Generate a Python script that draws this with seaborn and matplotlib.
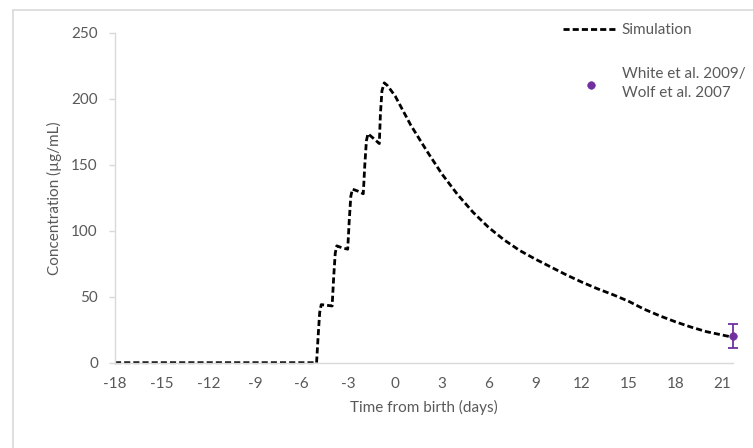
import matplotlib
matplotlib.use("Agg")
import matplotlib.pyplot as plt
import seaborn as sns
import pandas as pd
from matplotlib.lines import Line2D

# Simulated concentration
sim_time = [-18, -5.05, -4.95, -4.85, -4.75, -4.4, -4.05, -3.95, -3.85, -3.75, -3.4, -3.05,
            -2.95, -2.85, -2.75, -2.4, -2.05, -1.95, -1.85, -1.75, -1.4, -1.02, -0.95, -0.85,
            -0.7, -0.5, 0, 1, 2, 3, 4, 5, 6, 7, 8, 9, 10, 11, 12, 13, 14, 15, 16, 17, 18,
            19, 20, 21, 21.6]
sim_conc = [0, 0, 20, 38, 44, 43.5, 43, 65, 83, 88.5, 87, 86,
            108, 126, 131.5, 130, 128, 150, 168, 173.5, 170, 166, 188, 206,
            212, 210, 202, 180, 161, 143, 127.5, 114, 102.5, 93, 85, 78.5, 72.5, 66.5, 61, 56,
            51.5, 46.5, 40.5, 35.5, 31, 27, 23.5, 21, 19.5]

# Observed value with error bar
obs_time = [21.7]
obs_conc = [20.4]
obs_err = [9.0]

x_ticks = list(range(-18, 22, 3))
y_ticks = [0, 50, 100, 150, 200, 250]

sns.set_theme(style="white")
plt.rcParams["font.family"] = ["Lato", "DejaVu Sans"]
plt.rcParams["axes.unicode_minus"] = False

grey = "#d9d9d9"
text_col = "#595959"
purple = "#7030A0"
fs = 11

fig = plt.figure(figsize=(7.53, 4.48), dpi=100)
ax = fig.add_axes([0.1527, 0.1904, 0.8207, 0.7366])

sim = pd.DataFrame({"t": sim_time, "c": sim_conc})
sns.lineplot(data=sim, x="t", y="c", ax=ax, color="black", linewidth=2.0,
             linestyle=(0, (2.2, 1.1)), sort=False, label="Simulation", clip_on=False)

obs = pd.DataFrame({"t": obs_time, "c": obs_conc})
ax.errorbar(obs_time, obs_conc, yerr=obs_err, fmt="none", ecolor=purple,
            elinewidth=1.3, capsize=3.5, capthick=1.3, clip_on=False, zorder=4)
sns.scatterplot(data=obs, x="t", y="c", ax=ax, color=purple, s=30, edgecolor=purple,
                label="White et al. 2009/\nWolf et al. 2007", clip_on=False, zorder=5)

ax.set_xlim(-18, 21.7)
ax.set_ylim(0, 250)
ax.set_xticks(x_ticks)
ax.set_yticks(y_ticks)

for side in ["top", "right"]:
    ax.spines[side].set_visible(False)
for side in ["left", "bottom"]:
    ax.spines[side].set_color(grey)
    ax.spines[side].set_linewidth(1.0)

ax.tick_params(axis="y", which="both", left=True, length=4.3, width=1.0, color=grey,
               pad=8.0, labelsize=fs, labelcolor=text_col)
ax.tick_params(axis="x", length=0, pad=10.0, labelsize=fs, labelcolor=text_col)

ax.set_xlabel("Time from birth (days)", fontsize=fs, color=text_col, labelpad=7)
ax.set_ylabel("Concentration (µg/mL)", fontsize=fs, color=text_col, labelpad=7)

leg = ax.legend(loc="upper left", bbox_to_anchor=(563 / 753, 1 - 23 / 448),
                bbox_transform=fig.transFigure, frameon=False, fontsize=fs,
                handlelength=3.6, handletextpad=0.25, labelspacing=1.95,
                borderpad=0, borderaxespad=0)
for t in leg.get_texts():
    t.set_color(text_col)
    t.set_linespacing(1.45)

# light chart frame, partly cut off like the reference
fig.add_artist(Line2D([13 / 753, 13 / 753], [0, 1 - 10 / 448], color=grey, lw=1.2,
                      transform=fig.transFigure))
fig.add_artist(Line2D([13 / 753, 1], [1 - 10 / 448, 1 - 10 / 448], color=grey, lw=1.2,
                      transform=fig.transFigure))

fig.savefig("out.png", dpi=100)
